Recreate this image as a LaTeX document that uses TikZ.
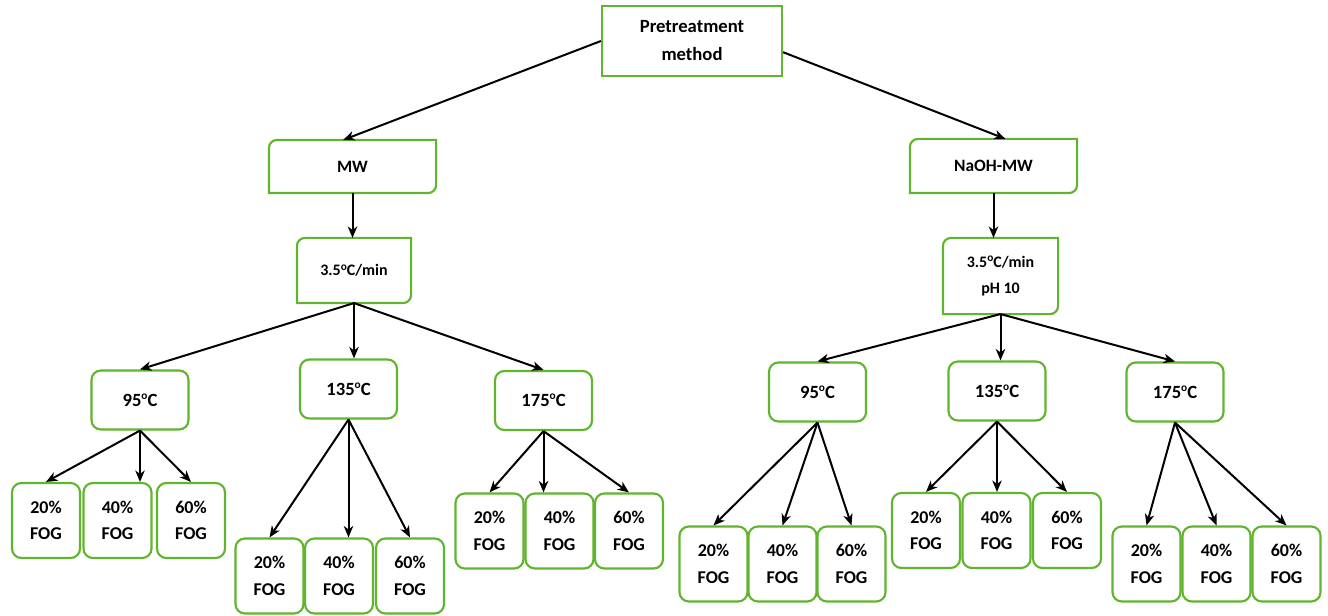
\documentclass[tikz,border=0pt]{standalone}
\usepackage{fontspec}
\setmainfont{Carlito}
\usetikzlibrary{arrows.meta}
\definecolor{boxgreen}{RGB}{96,180,46}

\tikzset{
  box/.style={draw=boxgreen, line width=1.6pt, fill=white, align=center, inner sep=0pt,
    font=\bfseries\fontsize{14}{21}\selectfont},
  headbox/.style={box, minimum width=135pt, minimum height=52.5pt},
  diagbox/.style={box, draw=none, minimum width=123.75pt},
  tempbox/.style={box, rounded corners=7pt, minimum width=72.75pt, minimum height=44.25pt},
  leafbox/.style={box, rounded corners=7pt, minimum width=51pt, minimum height=56.25pt,
    font=\bfseries\fontsize{13.5}{20}\selectfont},
  arr/.style={-{Stealth[length=8.5pt,width=7pt,inset=2.5pt]}, line width=1.5pt, black},
}
\newcommand\degsign{\raisebox{0.75ex}{\fontsize{8.5}{9}\selectfont o}}
% frame with round top-left and bottom-right corners
\newcommand\diagframe[2]{%
  \draw[boxgreen, line width=1.6pt] ([yshift=-#2]#1.north west)
    arc[start angle=180, end angle=90, radius=#2] -- (#1.north east)
    -- ([yshift=#2]#1.south east) arc[start angle=0, end angle=-90, radius=#2]
    -- (#1.south west) -- cycle;}

\begin{document}
\begin{tikzpicture}[x=0.75pt, y=0.75pt]
\useasboundingbox (0,0) rectangle (1328,615);

% top levels
\node[headbox] (top) at (692,574) {Pretreatment\\method};
\node[diagbox, minimum height=38.25pt, font=\bfseries\fontsize{13}{20}\selectfont] (mw) at (352.5,448.5) {MW};
\node[diagbox, minimum height=39pt, font=\bfseries\fontsize{13}{20}\selectfont] (naoh) at (993.5,449) {NaOH-MW};
\diagframe{mw}{6pt}
\diagframe{naoh}{6pt}

\node[diagbox, minimum width=84pt, minimum height=47.25pt, font=\bfseries\fontsize{12}{20}\selectfont] (lrate) at (354,344.5) {3.5\degsign C/min};
\node[diagbox, minimum width=84.75pt, minimum height=55.5pt, font=\bfseries\fontsize{12}{20}\selectfont] (rrate) at (1000.5,339) {3.5\degsign C/min\\pH 10};
\diagframe{lrate}{6pt}
\diagframe{rrate}{6pt}

% temperatures
\node[tempbox] (l95) at (140,215) {95\degsign C};
\node[tempbox] (l135) at (348.5,226) {135\degsign C};
\node[tempbox] (l175) at (543.5,214.5) {175\degsign C};
\node[tempbox] (r95) at (817.5,223) {95\degsign C};
\node[tempbox] (r135) at (997,224) {135\degsign C};
\node[tempbox] (r175) at (1175,223) {175\degsign C};

% FOG leaves
\foreach \p/\x in {20/46,40/117.5,60/191}
  \node[leafbox] (l95-\p) at (\x,94.5) {\p\%\\FOG};
\foreach \p/\x in {20/269.5,40/339,60/410}
  \node[leafbox] (l135-\p) at (\x,39) {\p\%\\FOG};
\foreach \p/\x in {20/489.5,40/559.5,60/629}
  \node[leafbox] (l175-\p) at (\x,84) {\p\%\\FOG};
\foreach \p/\x in {20/713.5,40/782.5,60/851.5}
  \node[leafbox] (r95-\p) at (\x,51) {\p\%\\FOG};
\foreach \p/\x in {20/926,40/996.5,60/1067}
  \node[leafbox] (r135-\p) at (\x,84.5) {\p\%\\FOG};
\foreach \p/\x in {20/1146.5,40/1216.5,60/1286.5}
  \node[leafbox] (r175-\p) at (\x,51) {\p\%\\FOG};

% connectors
\draw[arr] (top.west) -- ([xshift=-7pt]mw.north);
\draw[arr] (top.-7) -- ([xshift=9pt]naoh.north);
\draw[arr] (mw.south) -- (mw.south |- lrate.north);
\draw[arr] (naoh.south) -- (naoh.south |- rrate.north);
\foreach \s in {l,r} {
  \draw[arr] (\s rate.south) -- (\s95.north);
  \draw[arr] (\s rate.south) -- (\s rate.south |- \s135.north);
  \draw[arr] (\s rate.south) -- (\s175.north);
  \foreach \t in {95,135,175} {
    \draw[arr] (\s\t.south) -- (\s\t-20.north);
    \draw[arr] (\s\t.south) -- (\s\t-60.north);
  }
}
\foreach \n/\m in {l95/l95.south |- l95-40.north, l135/l135.south |- l135-40.north,
    l175/l175.south |- l175-40.north, r95/r95-40.north,
    r135/r135.south |- r135-40.north, r175/r175-40.north}
  \draw[arr] (\n.south) -- (\m);

\end{tikzpicture}
\end{document}
